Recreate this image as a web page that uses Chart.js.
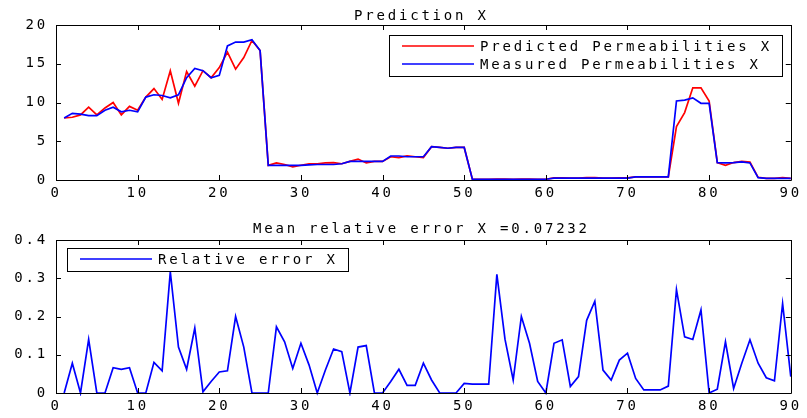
<!DOCTYPE html>
<html>
<head>
<meta charset="utf-8">
<script src="https://cdn.jsdelivr.net/npm/chart.js@4.4.1/dist/chart.umd.min.js"></script>
<style>
    body { margin: 0; background: #fff; }
    #wrap { position: relative; width: 807px; height: 418px; background: #fff; }
    canvas { position: absolute; left: 0; }
</style>
</head>
<body>
<div id="wrap">
    <canvas id="topChart" width="807" height="205" style="top:0"></canvas>
    <canvas id="bottomChart" width="807" height="208" style="top:210px"></canvas>
</div>
<script>
// Sample numbers along the x axis (1..90)
const samples = Array.from({ length: 90 }, (_, i) => i + 1);

// Predicted permeabilities (red)
const predicted = [
    8.0, 8.1, 8.4, 9.4, 8.4, 9.3, 10.0, 8.4, 9.5, 9.0,
    10.7, 11.8, 10.4, 14.1, 9.9, 14.0, 12.1, 14.1, 13.2, 14.5,
    16.5, 14.3, 15.8, 18.0, 16.7, 1.9, 2.2, 2.0, 1.7, 1.9,
    2.1, 2.1, 2.2, 2.25, 2.1, 2.4, 2.7, 2.2, 2.4, 2.4,
    3.0, 2.9, 3.1, 3.0, 2.9, 4.3, 4.2, 4.1, 4.2, 4.2,
    0.1, 0.1, 0.1, 0.13, 0.11, 0.1, 0.12, 0.11, 0.1, 0.1,
    0.28, 0.29, 0.25, 0.26, 0.3, 0.31, 0.26, 0.26, 0.27, 0.28,
    0.41, 0.4, 0.4, 0.4, 0.41, 6.9, 8.7, 11.9, 11.9, 10.2,
    2.25, 1.9, 2.25, 2.4, 2.3, 0.35, 0.2, 0.2, 0.3, 0.2
];

// Measured permeabilities (blue)
const measured = [
    8.0, 8.6, 8.5, 8.3, 8.3, 9.0, 9.4, 8.8, 9.0, 8.8,
    10.7, 11.0, 10.9, 10.6, 11.0, 13.2, 14.4, 14.1, 13.2, 13.5,
    17.3, 17.8, 17.8, 18.1, 16.7, 1.9, 1.9, 1.9, 1.9, 1.9,
    1.95, 2.0, 2.0, 2.0, 2.1, 2.4, 2.4, 2.4, 2.4, 2.4,
    3.1, 3.1, 3.0, 3.0, 3.0, 4.3, 4.2, 4.1, 4.2, 4.2,
    0.1, 0.1, 0.1, 0.1, 0.1, 0.1, 0.1, 0.1, 0.1, 0.1,
    0.25, 0.25, 0.25, 0.25, 0.25, 0.25, 0.25, 0.25, 0.25, 0.25,
    0.4, 0.4, 0.4, 0.4, 0.4, 10.2, 10.3, 10.6, 9.9, 9.9,
    2.25, 2.2, 2.25, 2.35, 2.2, 0.3, 0.2, 0.2, 0.2, 0.2
];

// Relative error (blue, lower plot)
const relError = [
    0, 0.078, 0, 0.14, 0, 0, 0.066, 0.062, 0.066, 0,
    0, 0.08, 0.058, 0.317, 0.12, 0.062, 0.17, 0.003, 0.03, 0.055,
    0.058, 0.2, 0.12, 0, 0, 0, 0.173, 0.134, 0.064, 0.13,
    0.073, 0, 0.06, 0.115, 0.108, 0, 0.12, 0.124, 0, 0,
    0.03, 0.062, 0.02, 0.02, 0.078, 0.034, 0, 0, 0, 0.025,
    0.023, 0.023, 0.023, 0.31, 0.14, 0.034, 0.2, 0.13, 0.03, 0,
    0.13, 0.139, 0.017, 0.043, 0.19, 0.24, 0.06, 0.034, 0.086, 0.104,
    0.038, 0.008, 0.008, 0.008, 0.018, 0.27, 0.147, 0.14, 0.217, 0,
    0.01, 0.134, 0.012, 0.078, 0.139, 0.078, 0.04, 0.032, 0.234, 0.043
];

// Tick labels
const xTicks = [0, 10, 20, 30, 40, 50, 60, 70, 80, 90];
const permTicks = [0, 5, 10, 15, 20];
const errTicks = [0, 0.1, 0.2, 0.3, 0.4];

const FONT = { family: 'DejaVu Sans Mono, Liberation Mono, monospace', size: 14 };
const FONT_CSS = '14px "DejaVu Sans Mono", "Liberation Mono", monospace';
const SPACING = '2.8px';

// Wide letter spacing like the old MATLAB figure font
const spacing = {
    id: 'spacing',
    beforeLayout(chart) { chart.ctx.letterSpacing = SPACING; },
    beforeDraw(chart) { chart.ctx.letterSpacing = SPACING; }
};

// Axes title, centred over the plot box
const axesTitle = {
    id: 'axesTitle',
    afterDraw(chart, args, opts) {
        const { ctx, chartArea: a } = chart;
        ctx.save();
        ctx.font = FONT_CSS;
        ctx.letterSpacing = SPACING;
        ctx.fillStyle = '#000';
        ctx.textAlign = 'center';
        ctx.textBaseline = 'alphabetic';
        ctx.fillText(opts.text, (a.left + a.right) / 2 - 2, opts.baseline);
        ctx.restore();
    }
};

// Box around the axes with ticks pointing inwards
const frame = {
    id: 'frame',
    afterDatasetsDraw(chart) {
        const { ctx, chartArea: a, scales: { x, y } } = chart;
        ctx.save();
        ctx.strokeStyle = '#000';
        ctx.lineWidth = 1;
        ctx.beginPath();
        ctx.rect(Math.round(a.left) + 0.5, Math.round(a.top) + 0.5,
                 Math.round(a.right - a.left), Math.round(a.bottom - a.top));
        x.ticks.forEach(t => {
            const px = Math.round(x.getPixelForValue(t.value)) + 0.5;
            ctx.moveTo(px, a.bottom); ctx.lineTo(px, a.bottom - 5);
            ctx.moveTo(px, a.top); ctx.lineTo(px, a.top + 5);
        });
        y.ticks.forEach(t => {
            const py = Math.round(y.getPixelForValue(t.value)) + 0.5;
            ctx.moveTo(a.left, py); ctx.lineTo(a.left + 5, py);
            ctx.moveTo(a.right, py); ctx.lineTo(a.right - 5, py);
        });
        ctx.stroke();
        ctx.restore();
    }
};

// Legend drawn inside the axes, in a boxed frame
const boxLegend = {
    id: 'boxLegend',
    afterDraw(chart, args, opts) {
        const { ctx, chartArea } = chart;
        const items = chart.data.datasets;
        ctx.save();
        ctx.font = FONT_CSS;
        ctx.letterSpacing = SPACING;
        const textW = Math.max(...items.map(d => ctx.measureText(d.label).width));
        const w = Math.round(91 + textW + 10);
        const h = items.length * 18 + 5;
        const x = opts.align === 'right'
            ? Math.round(chartArea.right - opts.offsetX - w)
            : Math.round(chartArea.left + opts.offsetX);
        const y = Math.round(chartArea.top + opts.offsetY);
        ctx.fillStyle = '#fff';
        ctx.fillRect(x, y, w, h);
        ctx.strokeStyle = '#000';
        ctx.lineWidth = 1;
        ctx.strokeRect(x + 0.5, y + 0.5, w, h);
        items.forEach((d, i) => {
            const cy = y + 11 + 18 * i;
            ctx.strokeStyle = d.borderColor;
            ctx.lineWidth = 1.5;
            ctx.beginPath();
            ctx.moveTo(x + 13, cy);
            ctx.lineTo(x + 85, cy);
            ctx.stroke();
            ctx.fillStyle = '#000';
            ctx.textBaseline = 'middle';
            ctx.textAlign = 'left';
            ctx.fillText(d.label, x + 91, cy + 1);
        });
        ctx.restore();
    }
};

function points(values) {
    return values.map((v, i) => ({ x: samples[i], y: v }));
}

function lineSet(label, values, color, order) {
    return {
        label: label,
        data: points(values),
        borderColor: color,
        backgroundColor: color,
        borderWidth: 1.7,
        pointRadius: 0,
        tension: 0,
        order: order,
        clip: 3
    };
}

function makeChart(id, title, topPad, baseline, datasets, yTicks, yMax, legendOpts) {
    return new Chart(document.getElementById(id), {
        type: 'line',
        data: { datasets: datasets },
        plugins: [spacing, frame, boxLegend, axesTitle],
        options: {
            responsive: false,
            animation: false,
            layout: { padding: { left: 0, right: 10, top: topPad, bottom: 0 } },
            plugins: {
                legend: { display: false },
                tooltip: { enabled: false },
                title: { display: false },
                axesTitle: { text: title, baseline: baseline },
                boxLegend: legendOpts
            },
            scales: {
                x: {
                    type: 'linear',
                    min: 0,
                    max: 90,
                    afterBuildTicks: s => { s.ticks = xTicks.map(v => ({ value: v })); },
                    afterFit: s => { s.height = 25; },
                    grid: { display: false, drawTicks: false },
                    border: { display: false },
                    ticks: { color: '#000', font: FONT, maxRotation: 0, padding: 5 }
                },
                y: {
                    min: 0,
                    max: yMax,
                    afterBuildTicks: s => { s.ticks = yTicks.map(v => ({ value: v })); },
                    afterFit: s => { s.width = 56; },
                    grid: { display: false, drawTicks: false },
                    border: { display: false },
                    ticks: { color: '#000', font: FONT, padding: 8 }
                }
            }
        }
    });
}

makeChart('topChart', 'Prediction X', 25, 20, [
    lineSet('Predicted Permeabilities X', predicted, '#ff0000', 2),
    lineSet('Measured Permeabilities X', measured, '#0000ff', 1)
], permTicks, 20, { align: 'right', offsetX: 9, offsetY: 10 });

makeChart('bottomChart', 'Mean relative error X =0.07232', 30, 23, [
    lineSet('Relative error X', relError, '#0000ff', 1)
], errTicks, 0.4, { align: 'left', offsetX: 11, offsetY: 8 });
</script>
</body>
</html>
